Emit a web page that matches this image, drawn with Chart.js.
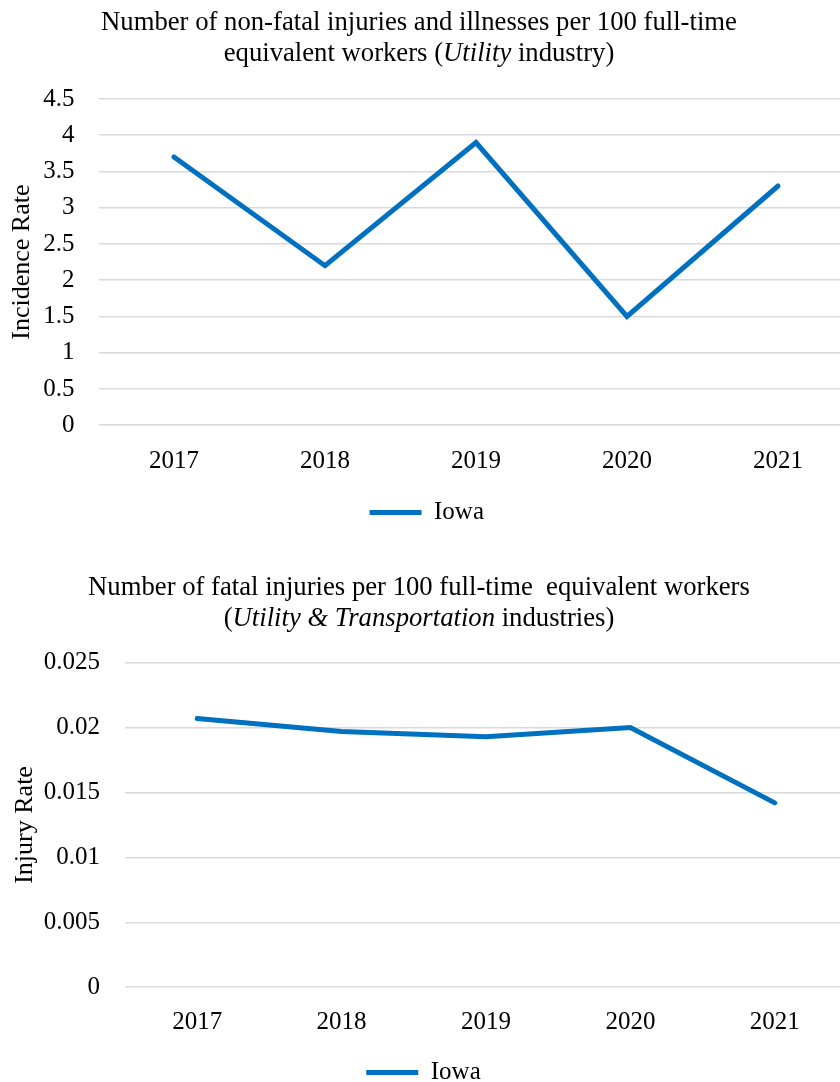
<!DOCTYPE html>
<html lang="en">
<head>
  <meta charset="UTF-8">
  <title>Iowa Utility Industry Injury Rates</title>
  <style>
    html, body {
      margin: 0;
      padding: 0;
      background: #ffffff;
      overflow: hidden;
    }
    #page {
      position: relative;
      width: 840px;
      height: 1082px;
      overflow: hidden;
      font-family: 'Liberation Serif', 'Times New Roman', serif;
    }
    canvas {
      position: absolute;
      left: 0;
    }
    .chart-title {
      position: absolute;
      left: 0;
      width: 838px;
      text-align: center;
      font-size: 26.7px;
      line-height: 31px;
      color: #000;
      white-space: nowrap;
    }
    #title1 { top: 6px; }
    #title2 { top: 571px; }
    #chart1 { top: 0; }
    #chart2 { top: 550px; }
  </style>
</head>
<body>
  <div id="page">
    <canvas id="chart1" width="860" height="535"></canvas>
    <canvas id="chart2" width="860" height="545"></canvas>
    <div class="chart-title" id="title1">Number of non-fatal injuries and illnesses per 100 full-time<br>equivalent workers (<i>Utility</i> industry)</div>
    <div class="chart-title" id="title2">Number of fatal injuries per 100 full-time&nbsp; equivalent workers<br>(<i>Utility &amp; Transportation</i> industries)</div>
  </div>

  <script src="https://cdn.jsdelivr.net/npm/chart.js@4.4.3/dist/chart.umd.min.js"></script>
  <script>
    // Years on the x axis (shared by both charts)
    const years = ['2017', '2018', '2019', '2020', '2021'];

    // Non-fatal injuries and illnesses per 100 FTE, Iowa utility industry
    const incidenceRate = [3.7, 2.2, 3.9, 1.5, 3.3];
    const incidenceTicks = [0, 0.5, 1, 1.5, 2, 2.5, 3, 3.5, 4, 4.5];

    // Fatal injuries per 100 FTE, Iowa utility & transportation industries
    const injuryRate = [0.0207, 0.0197, 0.0193, 0.0200, 0.0142];
    const injuryTicks = [0, 0.005, 0.01, 0.015, 0.02, 0.025];

    const FONT = "'Liberation Serif', 'Times New Roman', serif";
    const BLUE = '#0070C0';
    const GRID = '#d9d9d9';

    Chart.defaults.font.family = FONT;
    Chart.defaults.font.size = 25;
    Chart.defaults.color = '#000';

    function lineChart(canvasId, values, ticks, yTitle, box) {
      return new Chart(document.getElementById(canvasId), {
        type: 'line',
        data: {
          labels: years,
          datasets: [{
            label: 'Iowa',
            data: values,
            borderColor: BLUE,
            backgroundColor: BLUE,
            borderWidth: 5,
            borderCapStyle: 'round',
            pointRadius: 0,
            pointHoverRadius: 0,
            tension: 0,
            fill: false
          }]
        },
        options: {
          responsive: false,
          devicePixelRatio: 1,
          animation: false,
          layout: {
            padding: { top: box.top, right: box.right, bottom: 0, left: 0 }
          },
          scales: {
            x: {
              offset: true,
              grid: { display: false, drawTicks: false },
              border: { display: false },
              ticks: { padding: box.xPad, font: { size: 25 } }
            },
            y: {
              min: ticks[0],
              max: ticks[ticks.length - 1],
              afterBuildTicks: (scale) => {
                scale.ticks = ticks.map(v => ({ value: v }));
              },
              afterFit: (scale) => {
                scale.width = box.left;
              },
              grid: { color: GRID, lineWidth: 1.5, drawTicks: false },
              border: { display: false },
              ticks: {
                padding: box.yPad,
                font: { size: 25 },
                callback: (v) => String(+v.toFixed(4))
              },
              title: {
                display: true,
                text: yTitle,
                font: { size: 26 },
                padding: { top: box.titlePad, bottom: 0 }
              }
            }
          },
          plugins: {
            legend: {
              position: 'bottom',
              labels: {
                usePointStyle: true,
                pointStyle: 'line',
                pointStyleWidth: 52,
                padding: box.legendPad,
                font: { size: 25 },
                color: '#000'
              }
            },
            title: { display: false },
            tooltip: { enabled: false }
          }
        }
      });
    }

    lineChart('chart1', incidenceRate, incidenceTicks, 'Incidence Rate', {
      top: 99, right: 6.5, left: 98.5, xPad: 21, yPad: 24, titlePad: 6.4, legendPad: 2.8
    });

    lineChart('chart2', injuryRate, injuryTicks, 'Injury Rate', {
      top: 112.7, right: 13, left: 125, xPad: 20, yPad: 25, titlePad: 9.4, legendPad: 2.8
    });
  </script>
</body>
</html>
